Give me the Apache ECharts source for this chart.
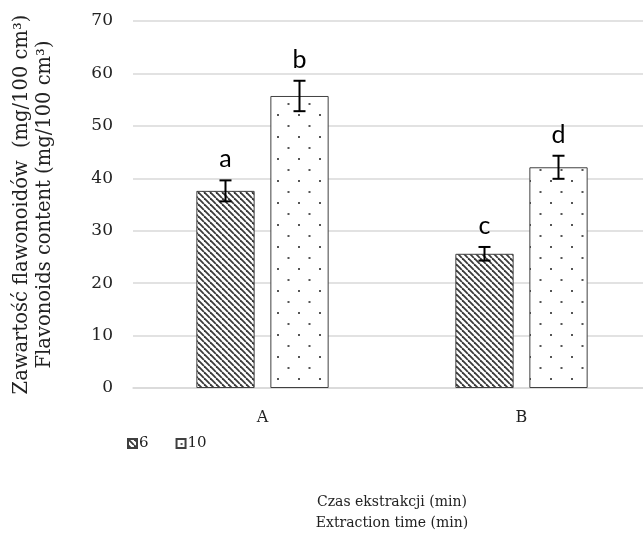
<!DOCTYPE html>
<html>
<head>
<meta charset="utf-8">
<script src="https://cdn.jsdelivr.net/npm/echarts@6/dist/echarts.min.js"></script>
<style>html,body{margin:0;padding:0;background:#fff}#c{width:643px;height:542px}</style>
</head>
<body>
<div id="c"></div>
<script>
const categories = ['A', 'B'];
const seriesNames = ['6', '10'];
const values6 = [37.6, 25.6];
const values10 = [55.7, 42.1];
const err6 = [2.0, 1.3];
const err10 = [2.9, 2.2];
const letters6 = ['a', 'c'];
const letters10 = ['b', 'd'];
const yTicks = {min: 0, max: 70, interval: 10};

function hatchPattern() {
  const s = 6;
  const c = document.createElement('canvas');
  c.width = s; c.height = s;
  const g = c.getContext('2d');
  g.fillStyle = '#fff'; g.fillRect(0, 0, s, s);
  g.strokeStyle = '#3a3a3a'; g.lineWidth = 1.8;
  for (let k = -1; k <= 1; k++) {
    g.beginPath();
    g.moveTo(k * s, 0); g.lineTo(k * s + s, s);
    g.stroke();
  }
  return c;
}
function dotPattern() {
  const w = 21, h = 22;
  const c = document.createElement('canvas');
  c.width = w; c.height = h;
  const g = c.getContext('2d');
  g.fillStyle = '#fff'; g.fillRect(0, 0, w, h);
  g.fillStyle = '#555';
  g.fillRect(4, 4, 2, 2);
  g.fillRect(14.5, 15, 2, 2);
  return c;
}

const barW = 0.225, barGapR = 0.27;
const offsetFrac = barW * (1 + barGapR) / 2;

function errSeries(vals, errs, letters, sign) {
  return {
    type: 'custom',
    z: 5,
    data: vals.map((v, i) => [i, v, errs[i]]),
    encode: {x: 0, y: 1},
    renderItem: function (params, api) {
      const cat = api.value(0), v = api.value(1), e = api.value(2);
      const catW = api.size([1, 0])[0];
      const x = api.coord([cat, v])[0] + sign * offsetFrac * catW;
      const top = api.coord([cat, v + e])[1];
      const bot = api.coord([cat, v - e])[1];
      const cap = 6;
      const st = {stroke: '#000', lineWidth: 2};
      return {
        type: 'group',
        children: [
          {type: 'line', shape: {x1: x, y1: top, x2: x, y2: bot}, style: st},
          {type: 'line', shape: {x1: x - cap, y1: top, x2: x + cap, y2: top}, style: st},
          {type: 'line', shape: {x1: x - cap, y1: bot, x2: x + cap, y2: bot}, style: st},
          {type: 'text', style: {text: letters[params.dataIndex], x: x, y: top - 21,
            align: 'center', verticalAlign: 'middle', fill: '#000',
            font: '25px Lato, "Liberation Sans", sans-serif'}}
        ]
      };
    }
  };
}

const serif = '"DejaVu Serif", "Liberation Serif", serif';
const chart = echarts.init(document.getElementById('c'), null, {renderer: 'canvas'});
chart.setOption({
  animation: false,
  backgroundColor: '#fff',
  grid: {left: 133, width: 518, top: 21, bottom: 154, outerBoundsMode: 'none', containLabel: false},
  legend: {
    data: seriesNames,
    left: 122, top: 431,
    itemWidth: 9, itemHeight: 9, itemGap: 27,
    icon: 'rect',
    textStyle: {fontFamily: serif, fontSize: 15, color: '#222', padding: [0, 0, 0, -3]}
  },
  xAxis: {
    type: 'category',
    data: categories,
    axisTick: {show: false},
    axisLine: {lineStyle: {color: '#d9d9d9', width: 1.5}},
    axisLabel: {fontFamily: serif, fontSize: 16, color: '#222', margin: 22},
    name: 'Czas ekstrakcji (min)\nExtraction time (min)',
    nameLocation: 'middle',
    nameGap: 104,
    nameTextStyle: {fontFamily: serif, fontSize: 14, color: '#222', lineHeight: 21}
  },
  yAxis: {
    type: 'value',
    min: yTicks.min, max: yTicks.max, interval: yTicks.interval,
    axisLine: {show: false},
    axisTick: {show: false},
    splitLine: {lineStyle: {color: '#d9d9d9', width: 1.5}},
    axisLabel: {fontFamily: serif, fontSize: 17, color: '#222', margin: 20},
    name: 'Zawartość flawonoidów  (mg/100 cm³)\nFlavonoids content (mg/100 cm³)',
    nameLocation: 'middle',
    nameRotate: 90,
    nameGap: 77,
    nameTextStyle: {fontFamily: serif, fontSize: 19.5, color: '#222', lineHeight: 23}
  },
  series: [
    {
      name: seriesNames[0], type: 'bar', data: values6,
      barWidth: (barW * 100) + '%', barGap: (barGapR * 100) + '%',
      itemStyle: {color: {image: hatchPattern(), repeat: 'repeat'}, borderColor: '#404040', borderWidth: 1}
    },
    {
      name: seriesNames[1], type: 'bar', data: values10,
      barWidth: (barW * 100) + '%', barGap: (barGapR * 100) + '%',
      itemStyle: {color: {image: dotPattern(), repeat: 'repeat'}, borderColor: '#404040', borderWidth: 1}
    },
    errSeries(values6, err6, letters6, -1),
    errSeries(values10, err10, letters10, 1)
  ]
});
</script>
</body>
</html>
